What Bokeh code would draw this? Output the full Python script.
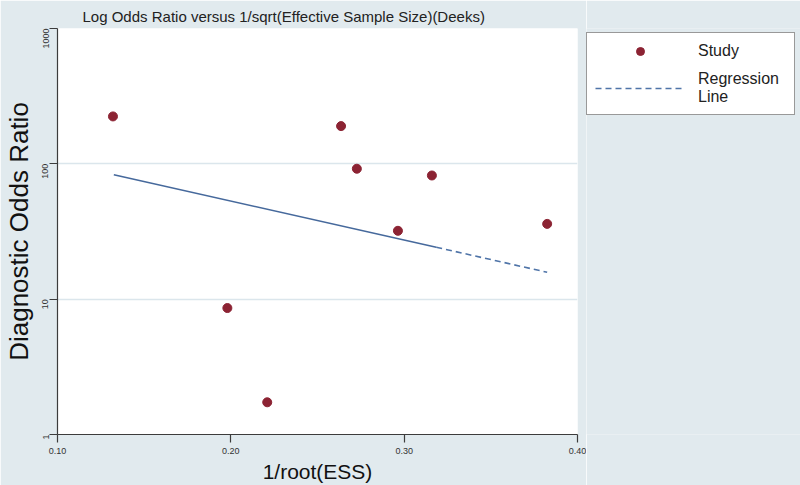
import math
from bokeh.plotting import figure
from bokeh.models import Legend, LegendItem, FixedTicker
from bokeh.layouts import row
from bokeh.embed import file_html
from bokeh.resources import INLINE

# ---- data ----
study_x = [0.132, 0.198, 0.221, 0.2636, 0.2727, 0.2964, 0.316, 0.3825]
study_dor = [224, 8.6, 1.73, 190, 92, 32, 82, 36]

reg_solid_x = [0.1325, 0.3185]
reg_solid_y = [83, 24.2]
reg_dash_x = [0.3185, 0.3825]
reg_dash_y = [24.2, 15.8]

x_ticks = [0.1, 0.2, 0.3, 0.4]
x_tick_labels = ["0.10", "0.20", "0.30", "0.40"]
y_ticks = [1, 10, 100, 1000]
y_tick_labels = ["1", "10", "100", "1000"]

title_text = "Log Odds Ratio versus 1/sqrt(Effective Sample Size)(Deeks)"
x_label = "1/root(ESS)"
y_label = "Diagnostic Odds Ratio"
legend_labels = ["Study", "Regression\nLine"]

# off-view sample points used only so the legend panel can draw its keys
legend_sample_x = [-5, -4]
legend_sample_y = [-5, -4]

BG = "#e1eaee"
FONT = "Liberation Sans"
RED = "#8c2333"
BLUE = "#4f74a8"

H = 485
p = figure(width=586, height=H, output_backend="svg", toolbar_location=None,
           x_range=(0.1, 0.4), y_range=(1, 1000), y_axis_type="log",
           min_border_left=57, min_border_right=9, min_border_top=28,
           min_border_bottom=51,
           x_axis_label=x_label, y_axis_label=y_label)
p.background_fill_color = "white"
p.border_fill_color = BG
p.outline_line_color = None

# title
p.title.text = title_text
p.title.align = "left"
p.title.offset = 25
p.title.standoff = 8
p.title.text_font = FONT
p.title.text_font_size = "15px"
p.title.text_font_style = "normal"
p.title.text_color = "#222222"

# grid
p.xgrid.visible = False
p.ygrid.grid_line_color = "#dbe6ec"
p.ygrid.grid_line_width = 1.5
p.ygrid.ticker = FixedTicker(ticks=[10, 100])

# axes
for ax in (p.xaxis[0], p.yaxis[0]):
    ax.axis_line_color = "#3c3c3c"
    ax.axis_line_width = 1.2
    ax.major_tick_line_color = "#3c3c3c"
    ax.major_tick_line_width = 1.2
    ax.major_tick_out = 8
    ax.major_tick_in = 0
    ax.minor_tick_line_color = None
    ax.major_label_text_font = FONT
    ax.major_label_text_font_size = "9px"
    ax.major_label_text_color = "#333333"
    ax.axis_label_text_font = FONT
    ax.axis_label_text_font_style = "normal"
    ax.axis_label_text_color = "#111111"

p.xaxis.ticker = FixedTicker(ticks=x_ticks)
p.xaxis.major_label_overrides = dict(zip(x_ticks, x_tick_labels))
p.xaxis.major_label_standoff = 5
p.xaxis.axis_label_standoff = 3
p.xaxis.axis_label_text_font_size = "21px"
p.yaxis.ticker = FixedTicker(ticks=y_ticks)
p.yaxis.major_label_overrides = dict(zip(y_ticks, y_tick_labels))
p.yaxis.major_label_orientation = math.pi / 2
p.yaxis.major_label_standoff = 4
p.yaxis.axis_label_standoff = 3
p.yaxis.axis_label_text_font_size = "26px"

# regression line
solid = p.line(reg_solid_x, reg_solid_y, line_color="#46699c", line_width=1.6)
dash = p.line(reg_dash_x, reg_dash_y, line_color=BLUE, line_width=1.6,
              line_dash="6 4")

# studies
pts = p.scatter(study_x, study_dor, size=9, fill_color=RED,
                line_color=RED, marker="circle")

# ---- legend panel (separate figure to the right) ----
lf = figure(width=214, height=H, output_backend="svg", toolbar_location=None,
            x_axis_location=None, y_axis_location=None, min_border=0,
            x_range=(0, 1), y_range=(0, 1))
lf.grid.visible = False
lf.outline_line_color = None
lf.background_fill_color = BG
lf.border_fill_color = BG
lg_pts = lf.scatter(x=legend_sample_x, y=legend_sample_y, size=9,
                    fill_color=RED, line_color=RED, marker="circle")
lg_line = lf.line(x=legend_sample_x, y=legend_sample_y, line_color=BLUE,
                  line_width=1.6, line_dash="6 4")

legend = Legend(items=[LegendItem(label=legend_labels[0], renderers=[lg_pts]),
                       LegendItem(label=legend_labels[1], renderers=[lg_line])],
                location=(0, 319), orientation="vertical")
legend.border_line_color = "#333333"
legend.border_line_width = 1
legend.background_fill_color = "white"
legend.background_fill_alpha = 1
legend.label_text_font = FONT
legend.label_text_font_size = "16px"
legend.label_text_color = "#222222"
legend.label_text_line_height = 1.0
legend.glyph_width = 90
legend.glyph_height = 20
legend.label_height = 20
legend.label_width = 88
legend.label_standoff = 13
legend.padding = 8
legend.spacing = 9
legend.margin = 0
lf.add_layout(legend, "center")

layout = row(p, lf, spacing=0)
html = file_html(layout, INLINE)
html = html.replace("<body>", '<body style="background-color: %s;">' % BG, 1)
open("out.html", "w").write(html)
